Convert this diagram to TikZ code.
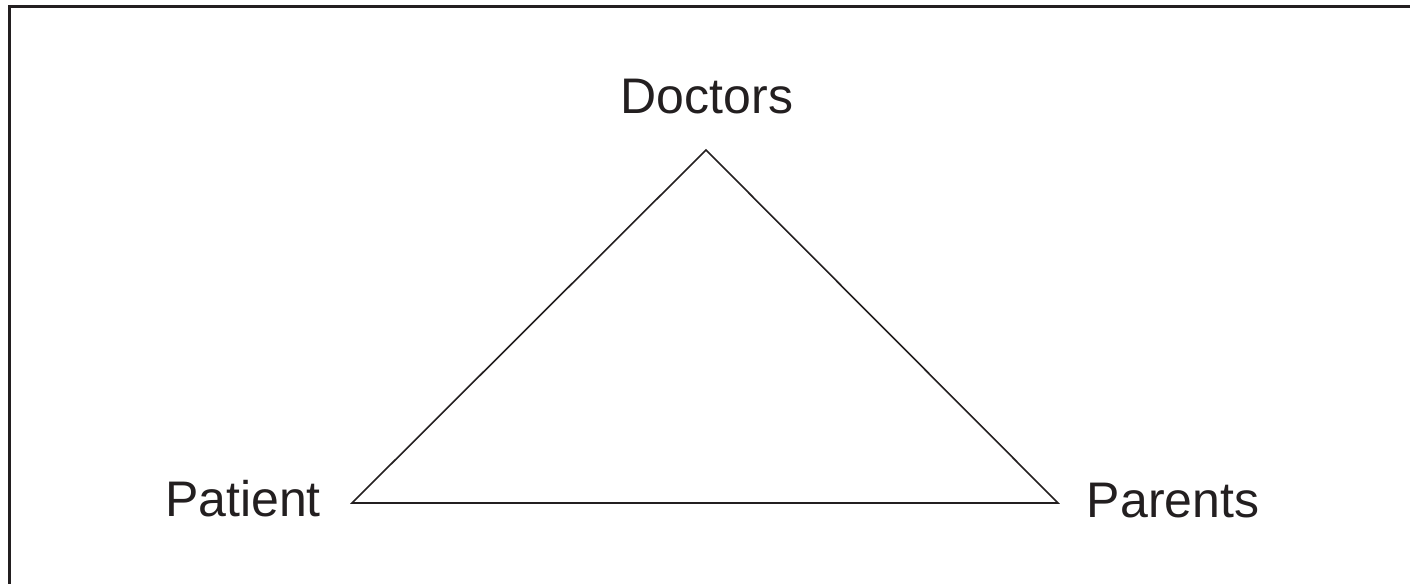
\documentclass[tikz,border=0pt]{standalone}
\usepackage{fontspec}
\setmainfont{Liberation Sans}
\definecolor{ink}{HTML}{231F20}
\begin{document}
\begin{tikzpicture}[x=0.5pt,y=-0.5pt,
  lbl/.style={anchor=base,inner sep=0pt,text=ink,font=\fontsize{25}{30}\selectfont},
  edge/.style={draw=ink,line width=0.8pt,line join=miter},
  frame/.style={draw=ink,line width=1.5pt}]
\useasboundingbox (0,0) rectangle (1410,584);
\draw[frame] (1410,6.5) -- (9.5,6.5) -- (9.5,584);
\coordinate (top) at (706,150);
\coordinate (left) at (352,503);
\coordinate (right) at (1058,503);
\draw[edge] (top) -- (right) -- (left) -- cycle;
\node[lbl] (doctors) at (707,113) {Doctors};
\node[lbl] (patient) at (243,516) {Patient};
\node[lbl] (parents) at (1173,517) {Parents};
\end{tikzpicture}
\end{document}
